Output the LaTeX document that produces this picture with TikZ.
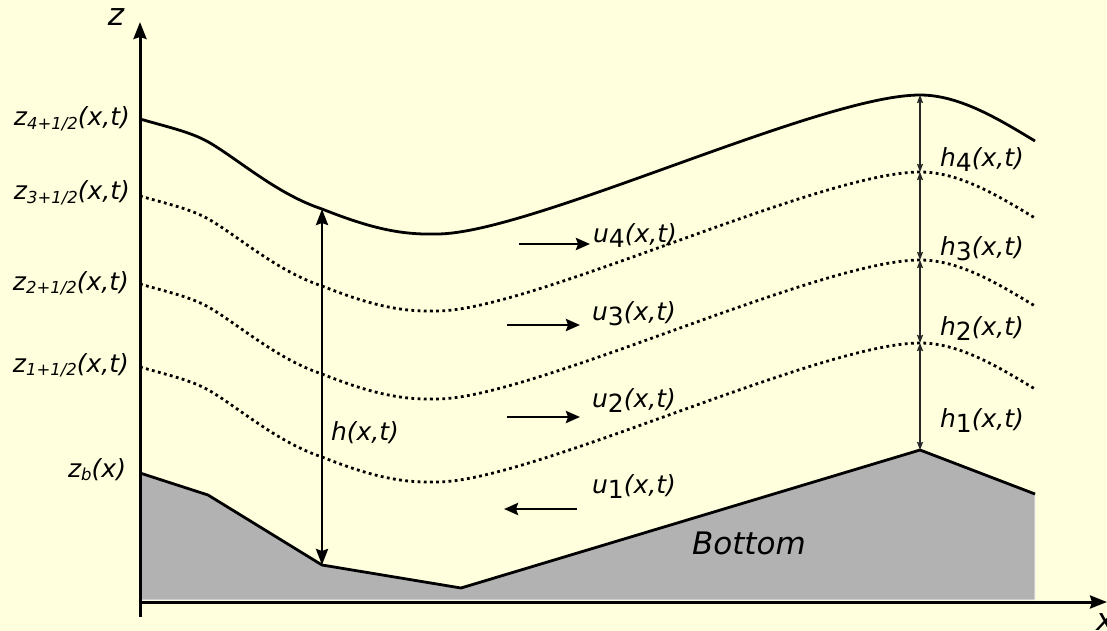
\documentclass[tikz,border=0pt]{standalone}
\usepackage{fontspec}
\setmainfont{DejaVu Sans}
\usetikzlibrary{arrows.meta}
\definecolor{LayerPaper}{HTML}{FFFFDD}
\definecolor{LayerInk}{gray}{0}
\definecolor{LayerBed}{gray}{0.70}
\definecolor{LayerThin}{gray}{0.15}
\newcommand{\lsub}[1]{\raisebox{-5pt}{\upshape #1}}
\newcommand{\zsub}[1]{\raisebox{-3.5pt}{\fontsize{16.5}{18}\selectfont #1}}
\newcommand{\surfacepath}{(140,119) .. controls (175,129) and (195,133) .. (215,146)
    .. controls (245,165) and (280,195) .. (322,209)
    .. controls (370,228) and (400,235) .. (437,234)
    .. controls (530,234) and (820,95) .. (920,95)
    .. controls (960,95) and (1000,120) .. (1035,141)}
\tikzset{
    layer/diagram/.style={
        font=\fontsize{25}{30}\selectfont\itshape,
        text=LayerInk,
        draw=LayerInk,
        line join=round,
        every node/.style={inner sep=0pt, outer sep=0pt}
    },
    layer/axis/.style={draw=LayerInk, line width=3pt,
        -{Stealth[length=17pt, width=13pt, inset=2pt]}},
    layer/surface/.style={draw=LayerInk, line width=2.8pt},
    layer/interface/.style={draw=LayerInk, line width=2.8pt,
        dash pattern=on 2.8pt off 3.4pt},
    layer/bed/.style={fill=LayerBed, draw=white, line width=0.8pt},
    layer/bedline/.style={draw=LayerInk, line width=2.8pt},
    layer/depth/.style={draw=LayerInk, line width=2.8pt,
        {Stealth[length=16pt, width=12pt, inset=2pt]}-{Stealth[length=16pt, width=12pt, inset=2pt]}},
    layer/thickness/.style={draw=LayerThin, line width=1.4pt,
        {Stealth[length=8pt, width=6pt, inset=1pt]}-{Stealth[length=8pt, width=6pt, inset=1pt]}},
    layer/velocity/.style={draw=LayerInk, line width=2.8pt,
        -{Stealth[length=14pt, width=12pt, inset=2pt]}},
    layer/big/.style={font=\fontsize{31}{36}\selectfont\itshape}
}
\begin{document}
\begin{tikzpicture}[layer/diagram, x=1pt, y=-1pt]
    \fill[LayerPaper] (0,0) rectangle (1107,631);
    \useasboundingbox (0,0) rectangle (1107,631);
    % bed
    \draw[layer/bed] (140,473) -- (208,495) -- (322,565) -- (461,588)
        -- (920,450) -- (1035,494) -- (1035,600) -- (140,600) -- cycle;
    \draw[layer/bedline] (140,473) -- (208,495) -- (322,565) -- (461,588)
        -- (920,450) -- (1035,494);
    \node[layer/big, anchor=base west] (bed) at (692,554) {Bottom};
    % axes
    \coordinate (origin) at (140,602);
    \coordinate (zfoot) at (140,617);
    \coordinate (ztop) at (140,22);
    \coordinate (xend) at (1107,602);
    \draw[layer/axis] (zfoot) -- (ztop);
    \draw[layer/axis] (origin) -- (xend);
    \node[layer/big, anchor=base] (zaxis) at (116,26) {z};
    \node[layer/big, anchor=base west] (xaxis) at (1096,630) {x};
    % free surface and interfaces
    \draw[layer/surface] \surfacepath;
    \foreach \s in {77,165,248} {
        \draw[layer/interface, shift={(0,\s)}] \surfacepath;
    }
    \node[anchor=base east] (z4) at (130,126) {z\zsub{4+1/2}(x,t)};
    \node[anchor=base east] (z3) at (130,200) {z\zsub{3+1/2}(x,t)};
    \node[anchor=base east] (z2) at (129,290) {z\zsub{2+1/2}(x,t)};
    \node[anchor=base east] (z1) at (129,372) {z\zsub{1+1/2}(x,t)};
    \node[anchor=base east] (zb) at (126,477) {z\zsub{\itshape b}(x)};
    % total depth
    \coordinate (surf) at (322,209);
    \coordinate (bedlow) at (322,565);
    \draw[layer/depth] (surf) -- (bedlow);
    \node[anchor=base west] (h) at (331,440) {h(x,t)};
    % layer thicknesses
    \coordinate (peak4) at (920,95);
    \coordinate (peak3) at (920,172);
    \coordinate (peak2) at (920,260);
    \coordinate (peak1) at (920,343);
    \coordinate (peak0) at (920,450);
    \foreach \a/\b in {4/3,3/2,2/1,1/0} {
        \draw[layer/thickness] (peak\a) -- (peak\b);
    }
    \node[anchor=base west] (h4) at (940,167) {h\lsub{4}(x,t)};
    \node[anchor=base west] (h3) at (940,255) {h\lsub{3}(x,t)};
    \node[anchor=base west] (h2) at (940,335) {h\lsub{2}(x,t)};
    \node[anchor=base west] (h1) at (940,427) {h\lsub{1}(x,t)};
    % layer velocities
    \foreach \i/\y/\xa/\xb in {4/244/519/590,3/325/507/580,2/417/507/580,1/509/577/504} {
        \coordinate (u\i from) at (\xa,\y);
        \coordinate (u\i to) at (\xb,\y);
        \draw[layer/velocity] (u\i from) -- (u\i to);
    }
    \node[anchor=base west] (u4) at (593,242) {u\lsub{4}(x,t)};
    \node[anchor=base west] (u3) at (592,320) {u\lsub{3}(x,t)};
    \node[anchor=base west] (u2) at (592,407) {u\lsub{2}(x,t)};
    \node[anchor=base west] (u1) at (592,493) {u\lsub{1}(x,t)};
\end{tikzpicture}
\end{document}
